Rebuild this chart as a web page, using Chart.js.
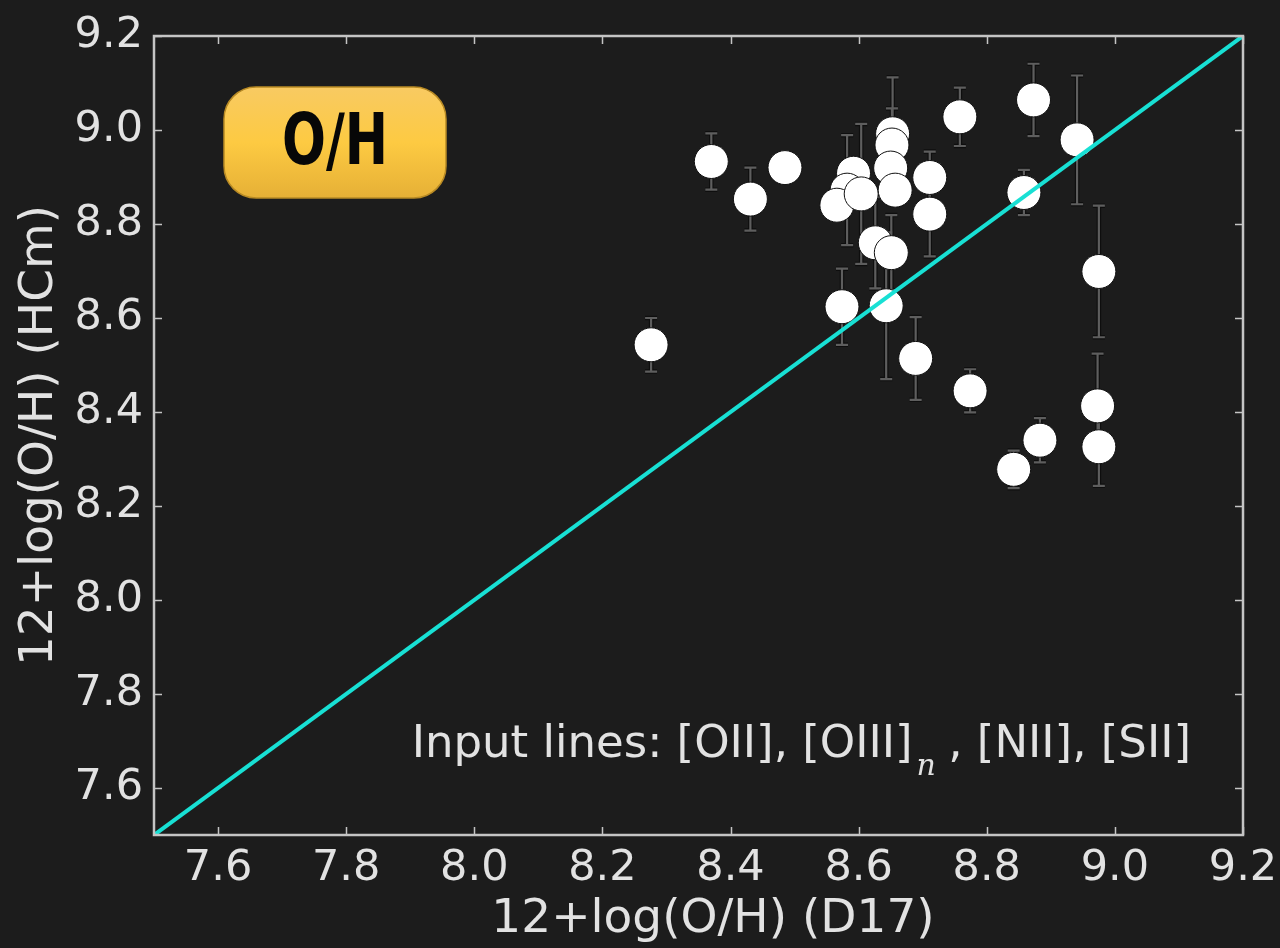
<!DOCTYPE html>
<html>
<head>
<meta charset="utf-8">
<script src="https://cdn.jsdelivr.net/npm/chart.js@4/dist/chart.umd.min.js"></script>
<style>
  html, body { margin: 0; padding: 0; background: #1c1c1c; }
  #wrap { width: 1280px; height: 948px; }
  canvas { display: block; }
</style>
</head>
<body>
<div id="wrap"><canvas id="c" width="1280" height="948"></canvas></div>
<script>
// Oxygen abundance: direct method (D17) vs HII-CHI-mistry (HCm)
const d17 = [8.276, 8.370, 8.431, 8.485, 8.574,
             8.592, 8.582, 8.566, 8.604,
             8.653, 8.652, 8.650, 8.657,
             8.626, 8.651, 8.643, 8.689,
             8.711, 8.711, 8.758, 8.774, 8.842,
             8.858, 8.873, 8.883, 8.941, 8.975, 8.973, 8.975];
const hcm = [8.543, 8.933, 8.853, 8.920, 8.624,
             8.908, 8.872, 8.840, 8.864,
             8.992, 8.968, 8.919, 8.872,
             8.760, 8.739, 8.626, 8.514,
             8.899, 8.821, 9.028, 8.445, 8.278,
             8.867, 9.064, 8.340, 8.979, 8.699, 8.413, 8.326];
const hcmErr = [0.057, 0.060, 0.067, 0.000, 0.081,
                0.000, 0.117, 0.030, 0.149,
                0.120, 0.078, 0.000, 0.000,
                0.097, 0.080, 0.156, 0.088,
                0.055, 0.090, 0.062, 0.046, 0.040,
                0.048, 0.077, 0.047, 0.137, 0.140, 0.111, 0.083];

// 1:1 reference line
const oneToOne = [7.5, 9.2];

const xTicks = [7.6, 7.8, 8.0, 8.2, 8.4, 8.6, 8.8, 9.0, 9.2];
const yTicks = [7.6, 7.8, 8.0, 8.2, 8.4, 8.6, 8.8, 9.0, 9.2];

const xTitle = '12+log(O/H) (D17)';
const yTitle = '12+log(O/H) (HCm)';
const badgeText = 'O/H';
const noteParts = ['Input lines: [OII], [OIII]', 'n', ' , [NII], [SII]'];

const TEXT = '#e2e2e2';
const FRAME = '#c4c4c4';
const TITLE_FONT = '"DejaVu Sans", sans-serif';

const points = d17.map((x, i) => ({ x: x, y: hcm[i] }));
const linePts = oneToOne.map(v => ({ x: v, y: v }));

// vertical error bars under the markers
const errorBars = {
  id: 'errorBars',
  beforeDatasetsDraw(chart) {
    const { ctx, scales: { x, y } } = chart;
    ctx.save();
    const paths = [];
    d17.forEach((xv, i) => {
      const e = hcmErr[i];
      if (!e) return;
      const px = x.getPixelForValue(xv);
      const t = y.getPixelForValue(hcm[i] + e);
      const b = y.getPixelForValue(hcm[i] - e);
      paths.push([px, t, b]);
    });
    const stroke = (w, c) => {
      ctx.lineWidth = w; ctx.strokeStyle = c;
      paths.forEach(([px, t, b]) => {
        ctx.beginPath();
        ctx.moveTo(px, t); ctx.lineTo(px, b);
        ctx.moveTo(px - 6, t); ctx.lineTo(px + 6, t);
        ctx.moveTo(px - 6, b); ctx.lineTo(px + 6, b);
        ctx.stroke();
      });
    };
    stroke(4.5, '#0e0e0e');
    stroke(2.2, '#5e5e5e');
    ctx.restore();
  }
};

// boxed frame with inward ticks on all sides, plus labels
const decorations = {
  id: 'decorations',
  afterDraw(chart) {
    const { ctx, chartArea: a, scales: { x, y } } = chart;
    ctx.save();
    ctx.strokeStyle = FRAME;
    ctx.lineWidth = 1.5;
    ctx.beginPath();
    xTicks.forEach(v => {
      const p = Math.round(x.getPixelForValue(v)) + 0.5;
      ctx.moveTo(p, a.bottom); ctx.lineTo(p, a.bottom - 8);
      ctx.moveTo(p, a.top); ctx.lineTo(p, a.top + 8);
    });
    yTicks.forEach(v => {
      const p = Math.round(y.getPixelForValue(v)) + 0.5;
      ctx.moveTo(a.left, p); ctx.lineTo(a.left + 8, p);
      ctx.moveTo(a.right, p); ctx.lineTo(a.right - 8, p);
    });
    ctx.stroke();
    ctx.lineWidth = 2.5;
    ctx.strokeRect(a.left, a.top, a.right - a.left, a.bottom - a.top);

    // x-axis title, set slightly right of the plot centre
    ctx.fillStyle = TEXT;
    ctx.font = '47px ' + TITLE_FONT;
    ctx.textAlign = 'center';
    ctx.textBaseline = 'middle';
    ctx.fillText(xTitle, 713, 920);

    // badge
    const bx = 224, by = 87, bw = 222, bh = 111, r = 32;
    const g = ctx.createLinearGradient(0, by, 0, by + bh);
    g.addColorStop(0, '#f8ca62');
    g.addColorStop(0.5, '#fdca42');
    g.addColorStop(1, '#e6b036');
    ctx.beginPath();
    ctx.roundRect(bx, by, bw, bh, r);
    ctx.fillStyle = g;
    ctx.fill();
    ctx.lineWidth = 1.5;
    ctx.strokeStyle = '#b88a24';
    ctx.stroke();

    ctx.font = 'bold 72px "DejaVu Sans Condensed", "DejaVu Sans", sans-serif';
    const tw = ctx.measureText(badgeText).width;
    const sx = 106 / tw;
    ctx.save();
    ctx.translate(bx + bw / 2, 164);
    ctx.scale(sx, 1);
    ctx.fillStyle = '#070707';
    ctx.textAlign = 'center';
    ctx.textBaseline = 'alphabetic';
    ctx.fillText(badgeText, 0, 0);
    ctx.restore();

    // input-lines note, right-aligned
    const mainFont = '45px ' + TITLE_FONT;
    const subFont = 'italic 30px "DejaVu Serif", serif';
    ctx.font = mainFont;
    const w0 = ctx.measureText(noteParts[0]).width;
    const w2 = ctx.measureText(noteParts[2]).width;
    ctx.font = subFont;
    const w1 = ctx.measureText(noteParts[1]).width;
    const right = 1189, base = 757;
    const xs = right - (w0 + w1 + w2);
    ctx.fillStyle = TEXT;
    ctx.textAlign = 'left';
    ctx.textBaseline = 'alphabetic';
    ctx.font = mainFont;
    ctx.fillText(noteParts[0], xs, base);
    ctx.font = subFont;
    ctx.fillText(noteParts[1], xs + w0 + 4, base + 18);
    ctx.font = mainFont;
    ctx.fillText(noteParts[2], xs + w0 + w1 + 2, base);
    ctx.restore();
  }
};

new Chart(document.getElementById('c'), {
  type: 'scatter',
  data: {
    datasets: [
      {
        type: 'line',
        data: linePts,
        borderColor: '#18e0d4',
        borderWidth: 4,
        pointRadius: 0,
        fill: false,
        order: 0
      },
      {
        data: points,
        pointRadius: 17,
        pointHoverRadius: 17,
        pointBackgroundColor: '#ffffff',
        pointBorderColor: '#101010',
        pointBorderWidth: 1,
        order: 1
      }
    ]
  },
  options: {
    responsive: false,
    animation: false,
    events: [],
    layout: { padding: { top: 36, right: 37, left: 0, bottom: 0 } },
    plugins: { legend: { display: false }, tooltip: { enabled: false } },
    scales: {
      x: {
        type: 'linear', min: 7.5, max: 9.2,
        afterBuildTicks: s => { s.ticks = xTicks.map(v => ({ value: v })); },
        afterFit: s => { s.height = 113; s.paddingLeft = 0; s.paddingRight = 0; },
        grid: { display: false, drawTicks: false },
        border: { display: false },
        ticks: {
          color: TEXT, padding: 8, maxRotation: 0, autoSkip: false,
          font: { family: '"DejaVu Sans", sans-serif', size: 43 },
          callback: v => Number(v).toFixed(1)
        },
        title: { display: false }
      },
      y: {
        type: 'linear', min: 7.5, max: 9.2,
        afterBuildTicks: s => { s.ticks = yTicks.map(v => ({ value: v })); },
        afterFit: s => { s.width = 154; s.paddingTop = 0; s.paddingBottom = 0; },
        grid: { display: false, drawTicks: false },
        border: { display: false },
        ticks: {
          color: TEXT, padding: 11, autoSkip: false,
          font: { family: '"DejaVu Sans", sans-serif', size: 43 },
          callback: v => Number(v).toFixed(1)
        },
        title: {
          display: true, text: yTitle, color: TEXT,
          font: { family: TITLE_FONT, size: 47 },
          padding: { top: 12, bottom: 0 }
        }
      }
    }
  },
  plugins: [errorBars, decorations]
});
</script>
</body>
</html>
